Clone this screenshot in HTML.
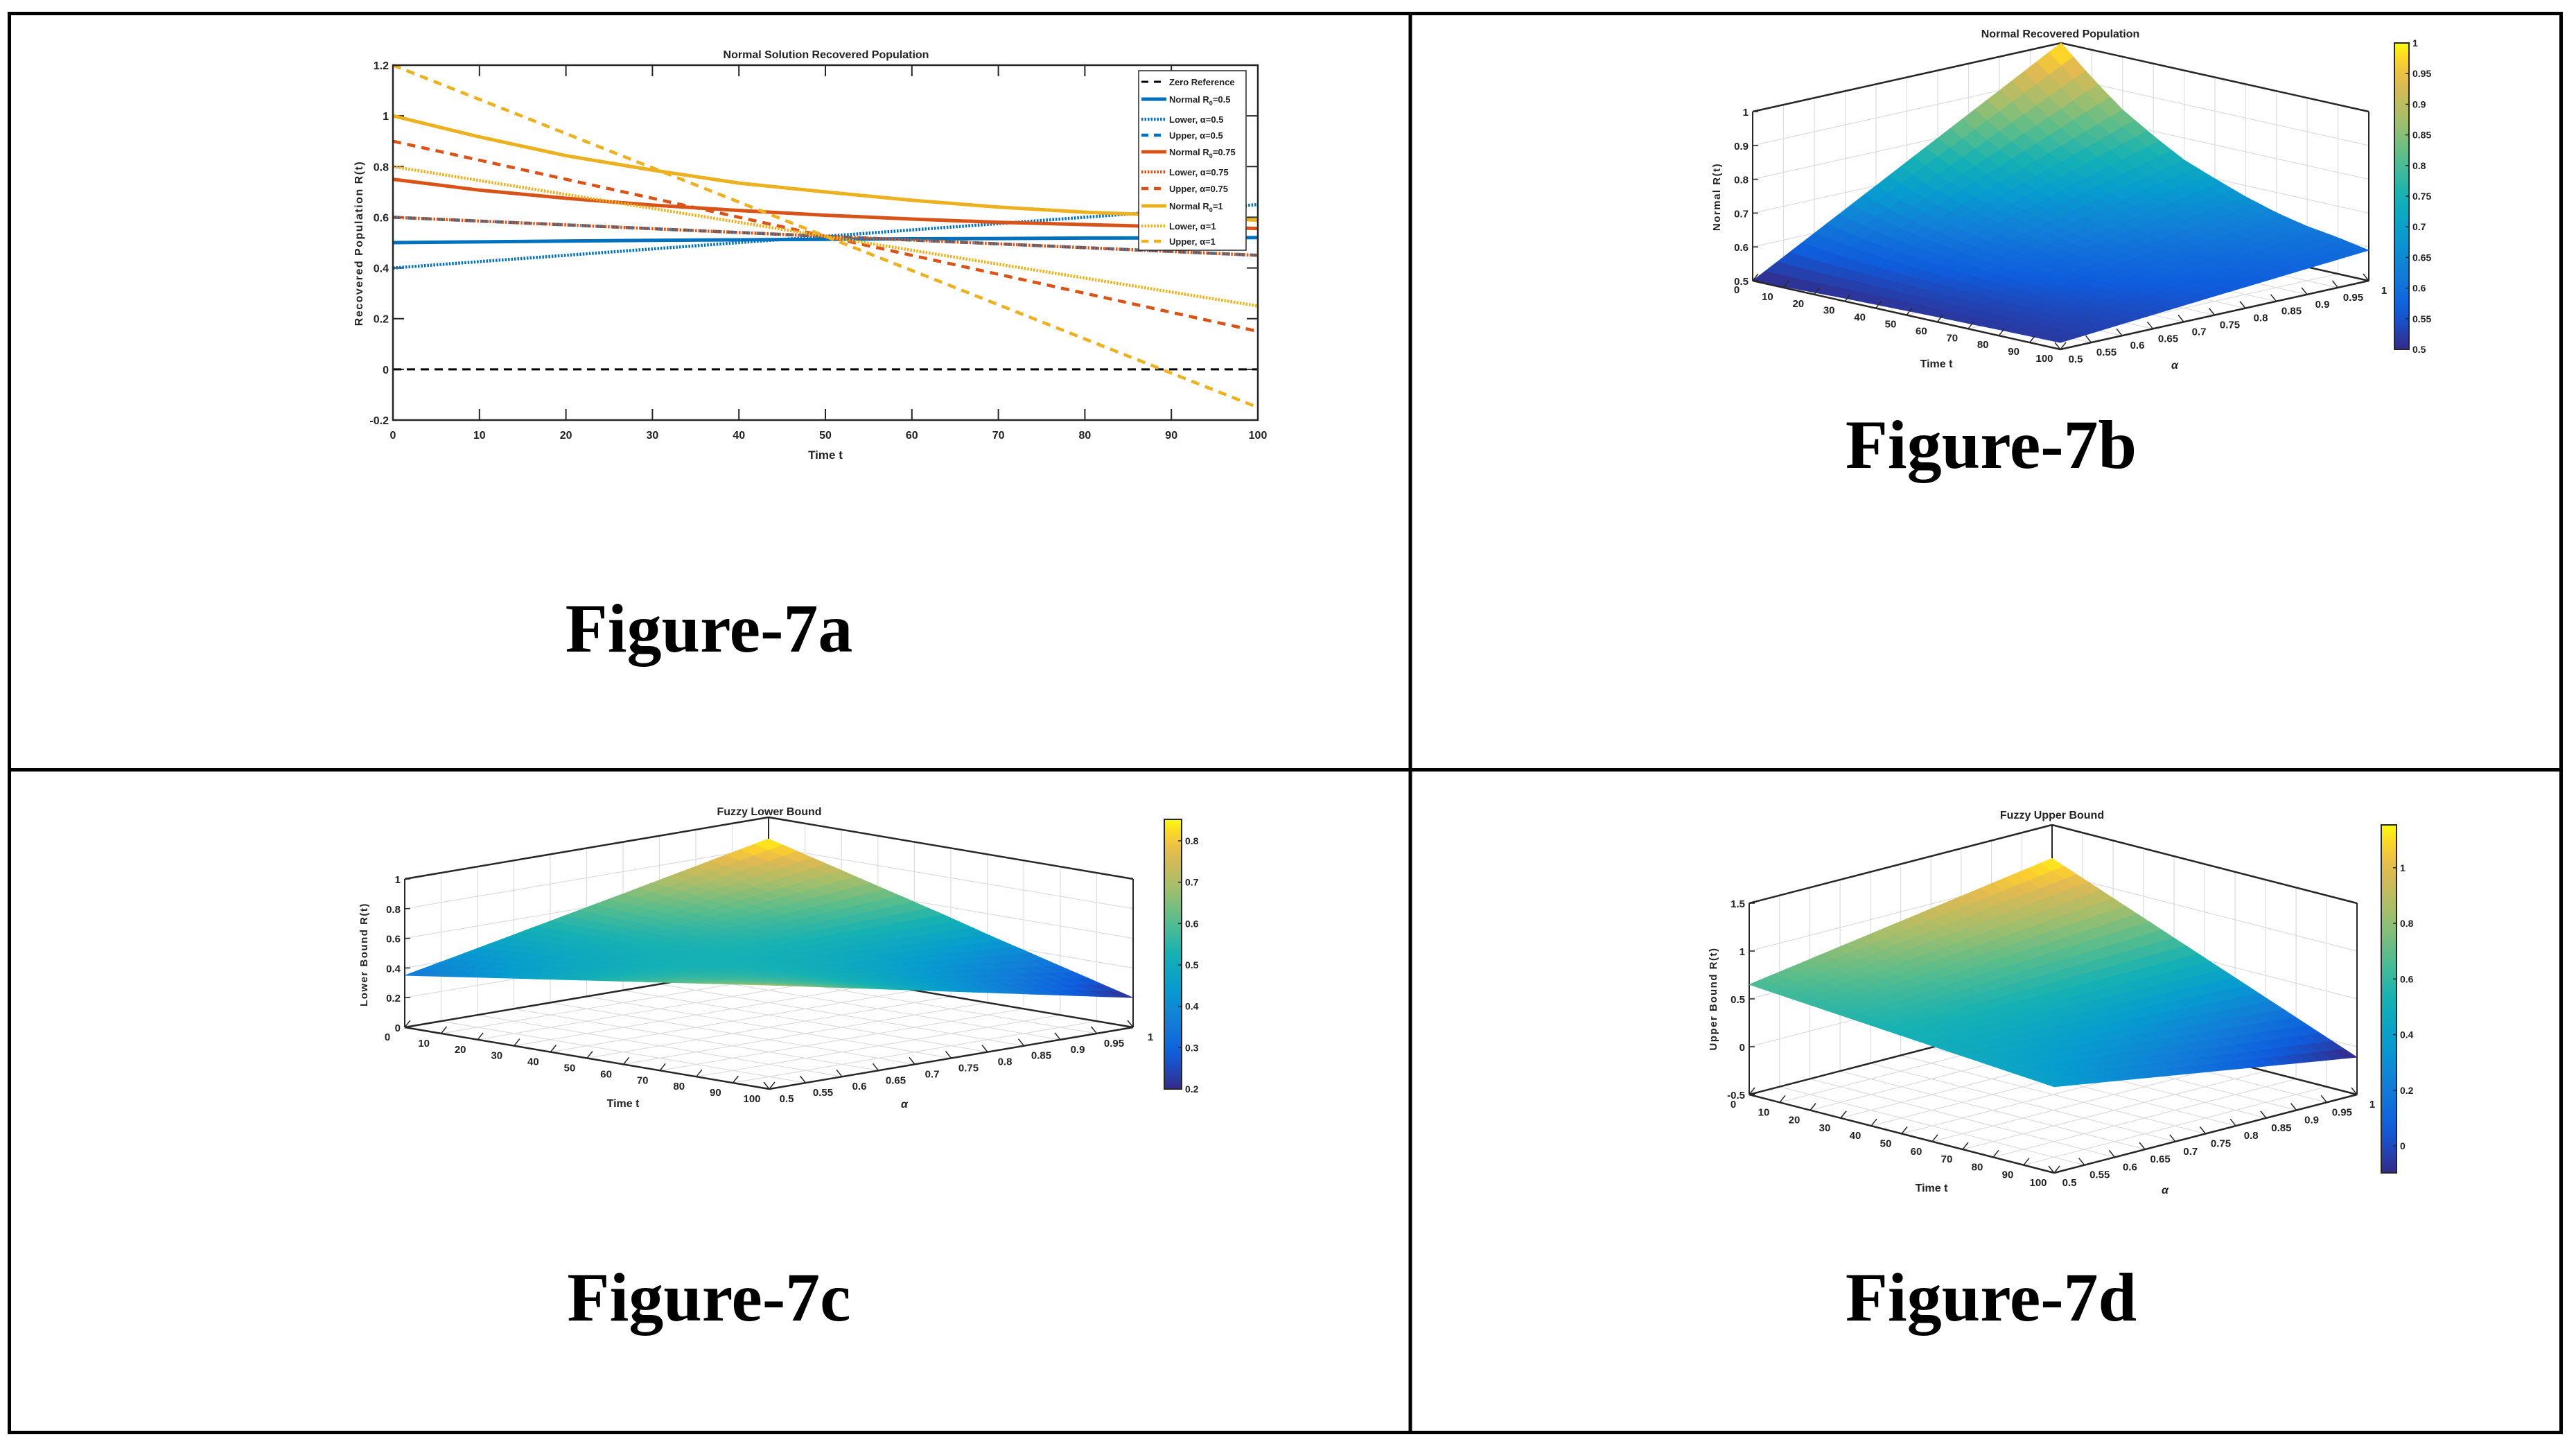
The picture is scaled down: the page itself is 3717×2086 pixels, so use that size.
<!DOCTYPE html>
<html><head><meta charset="utf-8"><style>
html,body{margin:0;padding:0;background:#fff}
svg{display:block}
.t{font-family:"Liberation Sans Narrow","Liberation Sans",sans-serif;font-weight:bold;fill:#222}
.cap{font-family:"Liberation Serif",serif;font-weight:bold;font-size:100px;fill:#000}
</style></head><body>
<svg id="root" width="3717" height="2086" viewBox="0 0 3717 2086" xmlns="http://www.w3.org/2000/svg">
<rect x="0" y="0" width="3717" height="2086" fill="#fff"/>
<g stroke="#000" stroke-width="5" fill="none">
<rect x="13.5" y="19.5" width="3682" height="2047"/>
<line x1="2035" y1="19" x2="2035" y2="2067"/>
<line x1="13" y1="1110.5" x2="3696" y2="1110.5"/>
</g>
<text class="cap" x="1023" y="940" text-anchor="middle">Figure-7a</text>
<text class="cap" x="2873" y="675" text-anchor="middle">Figure-7b</text>
<text class="cap" x="1023" y="1905" text-anchor="middle">Figure-7c</text>
<text class="cap" x="2873" y="1905" text-anchor="middle">Figure-7d</text>
<g id="p7a"></g>
<g id="p7b"></g>
<g id="p7c"></g>
<g id="p7d"></g>
</svg>
<script>
// ---------- Data: Figure 7a ----------
const tVals = [0,10,20,30,40,50,60,70,80,90,100];
const normal05 = [0.5,0.503,0.506,0.509,0.511,0.513,0.515,0.516,0.518,0.519,0.52];
const lower05 = [0.4,0.425,0.45,0.475,0.5,0.525,0.55,0.575,0.6,0.625,0.65];
const upper05 = [0.6,0.585,0.57,0.555,0.54,0.525,0.51,0.495,0.48,0.465,0.45];
const normal075 = [0.75,0.707,0.675,0.648,0.627,0.608,0.593,0.58,0.571,0.562,0.556];
const lower075 = [0.6,0.585,0.57,0.555,0.54,0.525,0.51,0.495,0.48,0.465,0.45];
const upper075 = [0.9,0.825,0.75,0.675,0.6,0.525,0.45,0.375,0.3,0.225,0.15];
const normal1 = [1.0,0.917,0.843,0.786,0.735,0.70,0.667,0.64,0.62,0.607,0.588];
const lower1 = [0.8,0.745,0.69,0.635,0.58,0.525,0.47,0.415,0.36,0.305,0.25];
const upper1 = [1.2,1.065,0.93,0.795,0.66,0.525,0.39,0.255,0.12,-0.015,-0.15];
const zeroRef = [0,0,0,0,0,0,0,0,0,0,0];
const xTicks7a = [0,10,20,30,40,50,60,70,80,90,100];
const yTicks7a = [-0.2,0,0.2,0.4,0.6,0.8,1,1.2];
// ---------- Data: 3D surfaces (values at alpha=0.5, 0.75, 1 over tVals) ----------
const alphaVals = [0.5,0.75,1];
const surfB05 = [0.5,0.503,0.506,0.509,0.511,0.513,0.515,0.516,0.518,0.519,0.52];
const surfB075 = [0.75,0.707,0.675,0.648,0.627,0.608,0.593,0.58,0.571,0.562,0.556];
const surfB1 = [1.0,0.917,0.843,0.786,0.735,0.70,0.667,0.64,0.62,0.607,0.59];
const surfC05 = [0.35,0.385,0.42,0.455,0.49,0.525,0.56,0.595,0.63,0.665,0.70];
const surfC075 = [0.6,0.585,0.57,0.555,0.54,0.525,0.51,0.495,0.48,0.465,0.45];
const surfC1 = [0.855,0.79,0.725,0.66,0.595,0.53,0.46,0.395,0.33,0.265,0.2];
const surfD05 = [0.65,0.625,0.6,0.575,0.55,0.525,0.5,0.475,0.45,0.425,0.40];
const surfD075 = [0.9,0.825,0.75,0.675,0.6,0.52,0.445,0.37,0.295,0.22,0.145];
const surfD1 = [1.15,1.024,0.898,0.772,0.646,0.52,0.394,0.268,0.142,0.016,-0.11];
const tTicks3d = [0,10,20,30,40,50,60,70,80,90,100];
const aTicks3d = [0.5,0.55,0.6,0.65,0.7,0.75,0.8,0.85,0.9,0.95,1];
const zTicksB = [0.5,0.6,0.7,0.8,0.9,1];
const zTicksC = [0,0.2,0.4,0.6,0.8,1];
const zTicksD = [-0.5,0,0.5,1,1.5];
const cbTicksB = [0.5,0.55,0.6,0.65,0.7,0.75,0.8,0.85,0.9,0.95,1];
const cbTicksC = [0.2,0.3,0.4,0.5,0.6,0.7,0.8];
const cbTicksD = [0,0.2,0.4,0.6,0.8,1];

const NS="http://www.w3.org/2000/svg";
function mk(parent,tag,attrs){const e=document.createElementNS(NS,tag);for(const k in attrs)e.setAttribute(k,attrs[k]);parent.appendChild(e);return e;}
function txt(parent,x,y,s,size,anchor,extra){const e=mk(parent,'text',Object.assign({x:x,y:y,'font-size':size,'text-anchor':anchor||'middle',class:'t'},extra||{}));e.textContent=s;return e;}
function fmt(v){return String(Math.round(v*1000)/1000);}

// ---------- Figure 7a ----------
(function(){
const g=document.getElementById('p7a');
const X0=567,X1=1815,Y0=94,Y1=606;
const xS=t=>X0+(t-0)/100*(X1-X0);
const yS=v=>Y1-(v+0.2)/1.4*(Y1-Y0);
const ax=mk(g,'g',{});


mk(ax,'rect',{x:X0,y:Y0,width:X1-X0,height:Y1-Y0,fill:'#fff',stroke:'none'});
xTicks7a.forEach(t=>{
  mk(ax,'line',{x1:xS(t),y1:Y1,x2:xS(t),y2:Y1-16,stroke:'#262626','stroke-width':2});
  mk(ax,'line',{x1:xS(t),y1:Y0,x2:xS(t),y2:Y0+16,stroke:'#262626','stroke-width':2});
  const l=txt(ax,xS(t),633,String(t),16,'middle');
  
  
});
yTicks7a.forEach(v=>{
  mk(ax,'line',{x1:X0,y1:yS(v),x2:X0+16,y2:yS(v),stroke:'#262626','stroke-width':2});
  mk(ax,'line',{x1:X1,y1:yS(v),x2:X1-16,y2:yS(v),stroke:'#262626','stroke-width':2});
  const l=txt(ax,X0-6,yS(v)+6,fmt(v),16,'end');
  
  
});
const series=[
 {name:'zero-reference',d:zeroRef,c:'#000',dash:'12 8',w:3},
 {name:'normal-r0-0.5',d:normal05,c:'#0072BD',dash:'',w:5},
 {name:'lower-alpha-0.5',d:lower05,c:'#0072BD',dash:'2.5 2',w:4.5},
 {name:'upper-alpha-0.5',d:upper05,c:'#0072BD',dash:'12 9',w:4.5},
 {name:'normal-r0-0.75',d:normal075,c:'#D95319',dash:'',w:5},
 {name:'lower-alpha-0.75',d:lower075,c:'#D95319',dash:'2.5 2',w:4.5},
 {name:'upper-alpha-0.75',d:upper075,c:'#D95319',dash:'12 9',w:4.5},
 {name:'normal-r0-1',d:normal1,c:'#EDB120',dash:'',w:5},
 {name:'lower-alpha-1',d:lower1,c:'#EDB120',dash:'2.5 2',w:4.5},
 {name:'upper-alpha-1',d:upper1,c:'#EDB120',dash:'12 9',w:4.5}
];
series.forEach(s=>{
  const pts=s.d.map((v,i)=>xS(tVals[i]).toFixed(1)+','+yS(v).toFixed(1)).join(' ');
  const p=mk(g,'polyline',{points:pts,fill:'none',stroke:s.c,'stroke-width':s.w,'stroke-dasharray':s.dash});
  
  
});
mk(g,'rect',{x:X0,y:Y0,width:X1-X0,height:Y1-Y0,fill:'none',stroke:'#262626','stroke-width':2.5});
const tt=txt(g,1192,84,'Normal Solution Recovered Population',16,'middle');


const xl=txt(g,1191,662,'Time t',17,'middle');


const yl=txt(g,523,351,'Recovered Population R(t)',16,'middle',{transform:'rotate(-90 523 351)','letter-spacing':'1.5','font-family':'Liberation Sans'});


// legend
const lg=mk(g,'g',{});


mk(lg,'rect',{x:1643,y:102,width:155,height:259,fill:'#fff',stroke:'#262626','stroke-width':1.5});
const ly=[118,143,172,195,219,248,272,297,326,348];
const labels=[['Zero Reference'],['Normal R','0','=0.5'],['Lower, \u03b1=0.5'],['Upper, \u03b1=0.5'],['Normal R','0','=0.75'],['Lower, \u03b1=0.75'],['Upper, \u03b1=0.75'],['Normal R','0','=1'],['Lower, \u03b1=1'],['Upper, \u03b1=1']];
series.forEach((s,i)=>{
  const e=mk(lg,'g',{});
  
  
  mk(e,'line',{x1:1647,y1:ly[i],x2:1683,y2:ly[i],stroke:s.c,'stroke-width':s.w,'stroke-dasharray':s.dash==='12 9'||s.dash==='12 8'?'10 8':s.dash});
  const t=mk(e,'text',{x:1687,y:ly[i]+5,'font-size':13,class:'t','text-anchor':'start'});
  const L=labels[i];
  t.appendChild(document.createTextNode(L[0]));
  if(L.length>1){const sb=mk(t,'tspan',{'font-size':9,dy:4});sb.textContent=L[1];const r=mk(t,'tspan',{dy:-4});r.textContent=L[2];}
});
})();

// ---------- Parula colormap ----------
const PAR=[[0,53,42,135],[0.125,15,92,221],[0.25,18,125,216],[0.375,7,156,207],[0.5,21,177,180],[0.625,89,189,140],[0.75,165,190,107],[0.875,225,185,82],[0.94,252,206,46],[1,249,251,14]];
function parula(u){u=Math.max(0,Math.min(1,u));for(let i=1;i<PAR.length;i++){if(u<=PAR[i][0]){const a=PAR[i-1],b=PAR[i],f=(u-a[0])/(b[0]-a[0]);return 'rgb('+[1,2,3].map(k=>Math.round(a[k]+(b[k]-a[k])*f)).join(',')+')';}}return 'rgb(249,251,14)';}

// ---------- 3D panels ----------
function panel3d(c){
  const g=document.getElementById(c.id);
  const P=(t,a,z)=>{const u=t/100,v=(a-0.5)/0.5;return [c.L[0]+u*(c.F[0]-c.L[0])+v*(c.R[0]-c.F[0]), c.L[1]+u*(c.F[1]-c.L[1])+v*(c.R[1]-c.F[1])-(z-c.zmin)*c.k];};
  const val=(t,a)=>{
    let i=Math.min(9,Math.floor(t/10));const f=(t-tVals[i])/10;
    const r=c.rows.map(row=>row[i]+(row[i+1]-row[i])*f);
    const x=a,x0=alphaVals[0],x1=alphaVals[1],x2=alphaVals[2];
    return r[0]*(x-x1)*(x-x2)/((x0-x1)*(x0-x2))+r[1]*(x-x0)*(x-x2)/((x1-x0)*(x1-x2))+r[2]*(x-x0)*(x-x1)/((x2-x0)*(x2-x1));
  };
  const ln=(p,q,st,w)=>mk(g,'line',{x1:p[0].toFixed(1),y1:p[1].toFixed(1),x2:q[0].toFixed(1),y2:q[1].toFixed(1),stroke:st,'stroke-width':w});
  const grid=mk(g,'g',{});
  
  
  const GC='#dcdcdc';
  const zmax=c.zTicks[c.zTicks.length-1];
  c.zTicks.forEach(z=>{
    mk(grid,'polyline',{points:[P(0,0.5,z),P(0,1,z),P(100,1,z)].map(p=>p.join(',')).join(' '),fill:'none',stroke:GC,'stroke-width':1.2});
  });
  aTicks3d.forEach(a=>{ln(P(0,a,c.zmin),P(0,a,zmax),GC,1.2);ln(P(0,a,c.zmin),P(100,a,c.zmin),GC,1.2);});
  tTicks3d.forEach(t=>{ln(P(t,1,c.zmin),P(t,1,zmax),GC,1.2);ln(P(t,0.5,c.zmin),P(t,1,c.zmin),GC,1.2);});
  const BC='#262626';
  ln(P(0,0.5,c.zmin),P(0,1,c.zmin),BC,2.5);ln(P(0,1,c.zmin),P(100,1,c.zmin),BC,2.5);
  ln(P(0,1,c.zmin),P(0,1,zmax),BC,2);
  ln(P(0,0.5,zmax),P(0,1,zmax),BC,2.5);ln(P(0,1,zmax),P(100,1,zmax),BC,2.5);
  ln(P(0,0.5,c.zmin),P(0,0.5,zmax),BC,2);ln(P(100,1,c.zmin),P(100,1,zmax),BC,2);
  const sg=mk(g,'g',{});
  
  
  const N=25,M=25,quads=[];
  for(let i=0;i<N;i++)for(let j=0;j<M;j++){
    const t0=100*i/N,t1=100*(i+1)/N,a0=0.5+0.5*j/M,a1=0.5+0.5*(j+1)/M;
    const z00=val(t0,a0),z10=val(t1,a0),z11=val(t1,a1),z01=val(t0,a1);
    quads.push({d:(t0+t1)/200-((a0+a1)/2-0.5)/0.5,pts:[P(t0,a0,z00),P(t1,a0,z10),P(t1,a1,z11),P(t0,a1,z01)],z:(z00+z10+z11+z01)/4});
  }
  quads.sort((p,q)=>p.d-q.d);
  quads.forEach(q=>{const col=parula((q.z-c.cmin)/(c.cmax-c.cmin));mk(sg,'polygon',{points:q.pts.map(p=>p[0].toFixed(1)+','+p[1].toFixed(1)).join(' '),fill:col,stroke:col,'stroke-width':0.8});});
  ln(P(0,0.5,c.zmin),P(100,0.5,c.zmin),BC,2.5);ln(P(100,0.5,c.zmin),P(100,1,c.zmin),BC,2.5);
  tTicks3d.forEach(t=>{const p=P(t,0.5,c.zmin);ln(p,[p[0]+8,p[1]-10],BC,1.5);
    const l=txt(g,p[0]+c.tOff[0],p[1]+c.tOff[1],String(t),c.fs,'middle');
    
    });
  aTicks3d.forEach(a=>{const p=P(100,a,c.zmin);ln(p,[p[0]-8,p[1]-10],BC,1.5);
    const l=txt(g,p[0]+c.aOff[0],p[1]+c.aOff[1],fmt(a),c.fs,'middle');
    
    });
  c.zTicks.forEach(z=>{const p=P(0,0.5,z);ln(p,[p[0]+8,p[1]],BC,1.5);
    const l=txt(g,p[0]-6,p[1]+6,fmt(z),c.fs,'end');
    
    });
  const ti=txt(g,c.title[0],c.title[1],c.titleText,16,'middle');
  
  
  const xa=txt(g,c.tLab[0],c.tLab[1],'Time t',16,'middle');
  
  
  const aa=txt(g,c.aLab[0],c.aLab[1],'\u03b1',16,'middle',{'font-style':'italic'});
  
  
  const za=txt(g,c.zLab[0],c.zLab[1],c.zText,15,'middle',{transform:'rotate(-90 '+c.zLab[0]+' '+c.zLab[1]+')','letter-spacing':'1.5','font-family':'Liberation Sans'});
  
  
  const cb=mk(g,'g',{});
  
  
  const gid='grad'+c.id;
  const gr=mk(mk(cb,'defs',{}),'linearGradient',{id:gid,x1:0,y1:1,x2:0,y2:0});
  for(let s=0;s<=20;s++)mk(gr,'stop',{offset:s/20,'stop-color':parula(s/20)});
  const cx=c.cb[0],cy0=c.cb[1],cy1=c.cb[2],cw=c.cb[3];
  mk(cb,'rect',{x:cx,y:cy0,width:cw,height:cy1-cy0,fill:'url(#'+gid+')',stroke:BC,'stroke-width':2});
  c.cbTicks.forEach(v=>{const y=cy1-(v-c.cmin)/(c.cmax-c.cmin)*(cy1-cy0);
    mk(cb,'line',{x1:cx+cw-5,y1:y,x2:cx+cw,y2:y,stroke:BC,'stroke-width':1.5});
    const l=txt(cb,cx+cw+5,y+5,fmt(v),14,'start');
    
    });
}
panel3d({id:'p7b',L:[2529,405],F:[2973,504],R:[3418,405],zmin:0.5,k:488,zTicks:zTicksB,rows:[surfB05,surfB075,surfB1],cmin:0.5,cmax:1,
  tOff:[-23,18],aOff:[22,19],fs:15,title:[2973,54],titleText:'Normal Recovered Population',tLab:[2794,530],aLab:[3138,532],zLab:[2482,284],zText:'Normal R(t)',
  cb:[3455,62,504,21],cbTicks:cbTicksB});
panel3d({id:'p7c',L:[584,1482],F:[1110,1571],R:[1635,1482],zmin:0,k:214,zTicks:zTicksC,rows:[surfC05,surfC075,surfC1],cmin:0.2,cmax:0.852,
  tOff:[-25,19],aOff:[25,19],fs:15,title:[1110,1176],titleText:'Fuzzy Lower Bound',tLab:[899,1597],aLab:[1305,1598],zLab:[530,1377],zText:'Lower Bound R(t)',
  cb:[1680,1182,1571,25],cbTicks:cbTicksC});
panel3d({id:'p7d',L:[2524,1579],F:[2964,1692],R:[3401,1579],zmin:-0.5,k:138,zTicks:zTicksD,rows:[surfD05,surfD075,surfD1],cmin:-0.097,cmax:1.154,
  tOff:[-23,19],aOff:[22,19],fs:15,title:[2961,1181],titleText:'Fuzzy Upper Bound',tLab:[2787,1719],aLab:[3124,1722],zLab:[2477,1441],zText:'Upper Bound R(t)',
  cb:[3436,1190,1692,22],cbTicks:cbTicksD});
</script>
</body></html>
